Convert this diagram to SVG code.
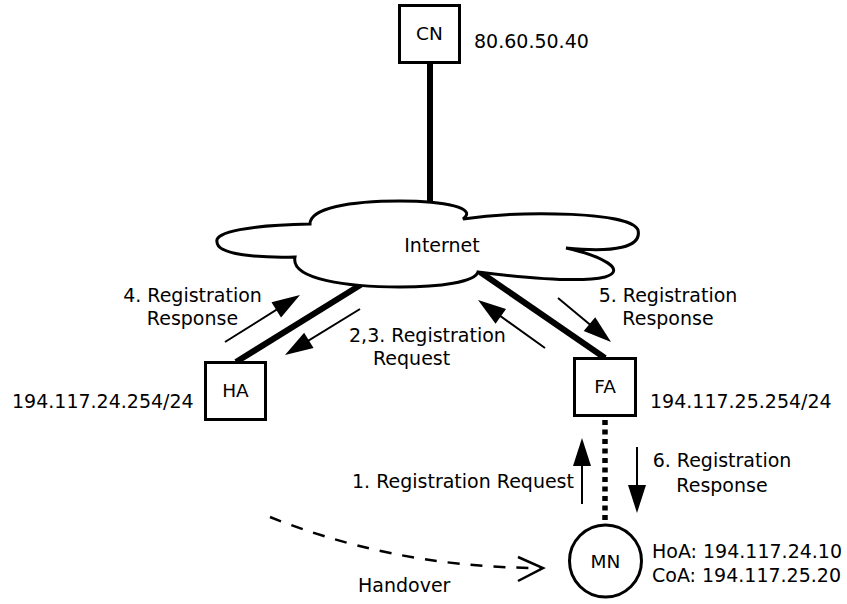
<svg xmlns="http://www.w3.org/2000/svg" width="847" height="604" viewBox="0 0 847 604">
  <defs>
    <style>
      .box { fill: #fff; stroke: #000; stroke-width: 3; }
      .trunk { stroke: #000; stroke-width: 6; fill: none; }
      .msg { stroke: #000; stroke-width: 2; fill: none; marker-end: url(#ah); }
      .radio { stroke: #000; stroke-width: 5.5; stroke-dasharray: 5 4.5; fill: none; }
      .move { stroke: #000; stroke-width: 2.5; stroke-dasharray: 12 11; fill: none; }
      text { font-family: "DejaVu Sans", "Liberation Sans", sans-serif; font-size: 19px; fill: #000; }
      .c { text-anchor: middle; }
      .nl { font-size: 18.5px; }
    </style>
    <marker id="ah" markerUnits="userSpaceOnUse" markerWidth="30" markerHeight="20" refX="22" refY="9" orient="auto" overflow="visible">
      <path d="M0,0 L28,9 L0,18 Z" fill="#000"/>
    </marker>
  </defs>
  <rect width="847" height="604" fill="#fff"/>

  <!-- links and registration messages -->
  <g id="connectors">
    <line class="trunk" x1="430" y1="63" x2="430" y2="210"/>
    <line class="trunk" x1="362" y1="284" x2="236" y2="362"/>
    <line class="trunk" x1="480" y1="272" x2="605" y2="358"/>
    <line class="radio" x1="605" y1="420" x2="605" y2="523"/>

    <line class="msg" x1="225" y1="342" x2="294.9" y2="298.2"/>
    <line class="msg" x1="360" y1="309" x2="290.1" y2="351.9"/>
    <line class="msg" x1="545" y1="348" x2="482.9" y2="303.5"/>
    <line class="msg" x1="558" y1="298" x2="606.4" y2="338.2"/>
    <line class="msg" x1="582" y1="504" x2="582" y2="444"/>
    <line class="msg" x1="637" y1="447" x2="637" y2="507"/>

    <path class="move" d="M270,517 C340,545 430,568 541,568"/>
    <polyline points="518,557 543,568 518,581" fill="none" stroke="#000" stroke-width="2.5"/>
  </g>

  <!-- Internet cloud -->
  <g id="internet">
    <path d="M217,242 C214,232 250,225 310,224
             C310,208 350,201 400,201
             C445,201 478,208 463,219
             C525,210 632,212 638,230
             C642,247 615,253 566,248
             C602,256 628,270 605,277
             C575,284 510,276 478,272
             C475,282 440,287 400,287
             C350,287 290,280 295,257
             C260,258 217,255 217,242 Z"
          fill="#fff" stroke="#000" stroke-width="3" stroke-linejoin="miter"/>
    <text x="442" y="252" class="c">Internet</text>
  </g>

  <g id="cn">
    <rect class="box" x="399.5" y="5.5" width="60" height="57"/>
    <text x="429.5" y="40" class="c nl">CN</text>
    <text x="474" y="48">80.60.50.40</text>
  </g>

  <g id="ha">
    <rect class="box" x="205.5" y="362.5" width="60" height="57"/>
    <text x="235.5" y="397" class="c nl">HA</text>
    <text x="12" y="408">194.117.24.254/24</text>
  </g>

  <g id="fa">
    <rect class="box" x="574.5" y="358.5" width="61" height="57"/>
    <text x="605" y="393" class="c nl">FA</text>
    <text x="650" y="408">194.117.25.254/24</text>
  </g>

  <g id="mn">
    <circle cx="605.5" cy="561" r="36" fill="#fff" stroke="#000" stroke-width="3"/>
    <text x="605.5" y="568" class="c nl">MN</text>
    <text x="652" y="558">HoA: 194.117.24.10</text>
    <text x="652" y="582">CoA: 194.117.25.20</text>
  </g>

  <!-- message labels -->
  <g id="labels">
    <text x="192.5" y="302" class="c">4. Registration</text>
    <text x="192.5" y="325" class="c">Response</text>
    <text x="349" y="342">2,3. Registration</text>
    <text x="373" y="365">Request</text>
    <text x="668" y="302" class="c">5. Registration</text>
    <text x="668" y="325" class="c">Response</text>
    <text x="352" y="488">1. Registration Request</text>
    <text x="722" y="467" class="c">6. Registration</text>
    <text x="722" y="492" class="c">Response</text>
    <text x="358" y="592">Handover</text>
  </g>
</svg>
